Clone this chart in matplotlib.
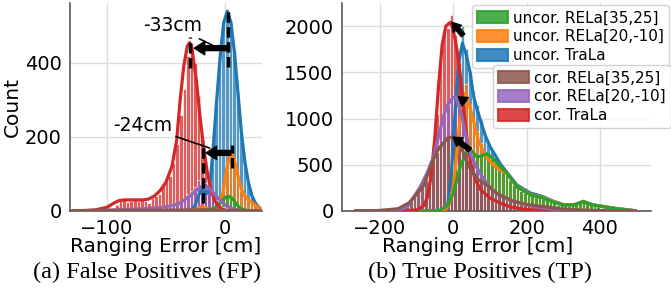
import numpy as np
import matplotlib
matplotlib.use("Agg")
import matplotlib.pyplot as plt
from matplotlib.patches import Patch

C_BLUE, C_ORANGE, C_GREEN = "#1f77b4", "#ff7f0e", "#2ca02c"
C_RED, C_PURPLE, C_BROWN = "#d62728", "#9467bd", "#8c564b"

# ---------------- (a) False Positives: histogram counts (bin width 3 cm) ----------------
fp_bin = 3
fp_blue_start = -24
fp_blue_counts = [30, 60, 40, 70, 170, 290, 420, 500, 530, 510, 430, 320, 210, 130, 75, 40, 20, 8]
fp_orange_start = -24
fp_orange_counts = [5, 12, 8, 3, 2, 5, 20, 60, 110, 150, 140, 90, 55, 40, 30, 22, 15, 10, 5]
fp_green_start = -15
fp_green_counts = [2, 5, 10, 20, 32, 40, 38, 25, 12, 5, 2]
fp_red_start = -93
fp_red_counts = [15, 28, 30, 25, 28, 30, 28, 30, 27, 22, 35, 40, 45, 70, 80, 95, 130, 180,
                 260, 330, 420, 455, 400, 310, 200, 130, 70, 40, 20, 8, 3]
fp_purple_start = -60
fp_purple_counts = [5, 6, 8, 10, 12, 15, 18, 25, 35, 45, 55, 65, 85, 80, 75, 55, 45, 30, 20,
                    12, 8, 5, 3]
fp_brown_start = -30
fp_brown_counts = [2, 2, 3, 3, 4, 3, 3, 2, 2, 1]

# (a) density curves
fp_blue_kx = [-131, -30, -26, -22, -19, -16, -13, -10, -7, -4, -1, 2, 5, 8, 11, 14, 17, 20, 23, 26, 30, 31]
fp_blue_ky = [0, 0, 10, 45, 60, 45, 60, 170, 300, 420, 510, 540, 510, 430, 320, 210, 130, 75, 40, 20, 6, 4]
fp_orange_kx = [-131, -30, -24, -20, -16, -12, -8, -5, -2, 1, 4, 6, 9, 12, 15, 18, 22, 26, 30, 31]
fp_orange_ky = [0, 0, 5, 12, 8, 3, 5, 15, 45, 105, 150, 155, 125, 80, 50, 35, 25, 15, 6, 4]
fp_green_kx = [-131, -60, -20, -12, -8, -4, 0, 3, 6, 9, 12, 16, 22, 31]
fp_green_ky = [0, 0, 1, 4, 10, 22, 36, 40, 35, 22, 10, 3, 0, 0]
fp_red_kx = [-131, -120, -110, -100, -95, -90, -85, -80, -75, -70, -65, -60, -55, -50, -45, -41,
             -38, -35, -32, -30, -28, -24, -21, -18, -15, -12, -9, -6, -3, 0, 5, 31]
fp_red_ky = [0, 1, 3, 10, 20, 28, 30, 30, 30, 30, 32, 40, 55, 78, 120, 190,
             300, 390, 445, 455, 440, 345, 250, 170, 105, 60, 30, 15, 6, 2, 0, 0]
fp_purple_kx = [-131, -110, -90, -70, -55, -45, -38, -32, -27, -23, -19, -16, -12, -8, -4, 0, 5, 10, 15, 20, 31]
fp_purple_ky = [0, 1, 3, 6, 9, 14, 22, 35, 48, 60, 68, 68, 58, 42, 28, 17, 8, 3, 1, 0, 0]
fp_brown_kx = [-131, -100, -60, -20, 0, 20, 31]
fp_brown_ky = [1, 2, 2, 3, 2, 1, 0]

# ---------------- (b) True Positives: histogram counts (bin width 10 cm) ----------------
tp_bin = 10
tp_blue_start = -30
tp_blue_counts = [10, 60, 380, 1050, 1600, 2000, 1750, 1500, 1300, 1150, 980, 850, 730, 650, 590,
                  520, 470, 420, 350, 310, 270, 230, 205, 190, 175, 160, 150, 140, 125, 105, 90,
                  75, 70, 65, 62, 65, 75, 90, 115, 95, 65, 50, 42, 35, 30, 25, 20, 15, 12, 9, 7, 6, 10]
tp_orange_start = -30
tp_orange_counts = [5, 20, 80, 420, 850, 1200, 1370, 1150, 1000, 860, 740, 620, 560, 500, 470,
                    440, 430, 400, 320, 290, 250, 220, 195, 180, 170, 155, 145, 135, 120, 100, 85,
                    72, 68, 62, 60, 62, 72, 88, 110, 92, 62, 48, 40, 33, 28, 23, 18, 14, 11, 8, 6, 5]
tp_green_start = -50
tp_green_counts = [2, 10, 30, 70, 130, 300, 480, 560, 620, 650, 640, 590, 600, 640, 610, 560, 530,
                   480, 440, 400, 330, 280, 250, 220, 190, 175, 165, 150, 175, 135, 115, 100, 85,
                   70, 65, 60, 58, 62, 72, 95, 120, 85, 62, 50, 42, 35, 30, 25, 20, 15, 12, 9, 7, 5, 3]
tp_red_start = -110
tp_red_counts = [15, 30, 50, 110, 250, 550, 1050, 1600, 1950, 1980, 2120, 1900, 1600, 1250, 850,
                 580, 400, 290, 220, 180, 140, 110, 90, 70, 55, 45, 35, 25, 20, 15, 10]
tp_purple_start = -160
tp_purple_counts = [10, 20, 35, 60, 110, 170, 240, 310, 390, 460, 580, 720, 900, 1050, 1150, 1230,
                    1250, 1120, 1000, 780, 640, 530, 450, 400, 330, 280, 240, 200, 170, 150, 120,
                    110, 95, 80, 70, 60, 55, 45, 40, 30, 25, 20, 15, 12, 10, 8]
tp_brown_start = -200
tp_brown_counts = [3, 5, 8, 12, 20, 30, 50, 80, 120, 170, 220, 270, 330, 450, 560, 640, 700, 760,
                   790, 800, 780, 720, 650, 560, 470, 400, 350, 330, 300, 270, 230, 190, 170, 150,
                   130, 115, 100, 90, 80, 70, 65, 60, 55, 50, 45, 40, 30, 25, 20, 18, 15, 12, 10,
                   8, 7, 6, 5, 4, 3]

# (b) density curves
tp_blue_kx = [-270, -40, -25, -15, -5, 5, 10, 17, 25, 35, 46, 55, 65, 73, 87, 100, 115, 130, 146,
              174, 210, 245, 270, 300, 330, 354, 380, 435, 490, 500]
tp_blue_ky = [0, 0, 15, 60, 400, 1060, 1340, 1650, 1815, 1700, 1500, 1250, 1100, 1000, 820, 700,
              600, 500, 420, 280, 195, 155, 110, 70, 68, 105, 68, 32, 6, 2]
tp_orange_kx = [-270, -40, -20, -10, 0, 5, 11, 19, 25, 32, 40, 48, 55, 68, 87, 109, 130, 146, 174,
                210, 245, 270, 300, 330, 354, 380, 435, 490, 500]
tp_orange_ky = [0, 0, 20, 80, 250, 440, 660, 1020, 1200, 1270, 1200, 1080, 985, 770, 600, 500, 440,
                410, 265, 180, 145, 105, 68, 66, 102, 66, 31, 5, 2]
tp_green_kx = [-270, -60, -35, -15, 0, 19, 38, 50, 65, 80, 92, 105, 119, 146, 174, 210, 245, 270,
               300, 330, 354, 380, 435, 490, 500]
tp_green_ky = [0, 0, 10, 60, 190, 480, 640, 650, 585, 600, 620, 580, 520, 410, 260, 175, 140, 100,
               65, 65, 100, 65, 30, 5, 0]
tp_red_kx = [-270, -150, -100, -80, -70, -60, -50, -40, -30, -20, -8, 0, 10, 20, 30, 40, 50, 60, 75,
             100, 130, 160, 200, 250, 300, 500]
tp_red_ky = [0, 2, 10, 60, 150, 380, 800, 1350, 1800, 2000, 2040, 1960, 1750, 1450, 1050, 700, 480,
             340, 230, 140, 80, 40, 15, 5, 0, 0]
tp_purple_kx = [-270, -150, -125, -90, -70, -54, -40, -27, -15, 0, 5, 10, 24, 35, 46, 60, 73, 95,
                119, 160, 218, 260, 300, 350, 400, 500]
tp_purple_ky = [0, 10, 45, 260, 420, 585, 800, 1020, 1150, 1230, 1235, 1200, 1020, 800, 625, 500,
                410, 280, 190, 110, 50, 25, 10, 3, 0, 0]
tp_brown_kx = [-270, -200, -150, -120, -100, -80, -63, -44, -30, -15, -3, 10, 27, 46, 68, 92, 119,
               160, 200, 250, 300, 350, 400, 500]
tp_brown_ky = [0, 5, 25, 90, 180, 280, 470, 650, 720, 790, 800, 760, 640, 460, 340, 280, 190, 110,
               70, 45, 20, 10, 3, 0]

legend_uncor = ["uncor. RELa[35,25]", "uncor. RELa[20,-10]", "uncor. TraLa"]
legend_cor = ["cor. RELa[35,25]", "cor. RELa[20,-10]", "cor. TraLa"]


def draw_hist(ax, start, width, counts, color):
    edges = start + width * np.arange(len(counts))
    ax.bar(edges, counts, width=width, align="edge", color=color, alpha=0.75,
           edgecolor="white", linewidth=0.6, zorder=2)


def style_axes(ax):
    ax.grid(True, color="#dddddd", linewidth=1.0, zorder=0)
    ax.set_axisbelow(True)
    for s in ["top", "right"]:
        ax.spines[s].set_visible(False)
    for s in ["left", "bottom"]:
        ax.spines[s].set_color("0.35")
        ax.spines[s].set_linewidth(1.2)
    ax.tick_params(length=0, labelsize=14, pad=6)


fig = plt.figure(figsize=(6.71, 2.96), dpi=100)
ax1 = fig.add_axes([70 / 671, 85 / 296, 192 / 671, 208 / 296])
ax2 = fig.add_axes([342 / 671, 85 / 296, 309 / 671, 208 / 296])

# ---- panel (a)
for start, counts, col in [(fp_blue_start, fp_blue_counts, C_BLUE),
                           (fp_orange_start, fp_orange_counts, C_ORANGE),
                           (fp_green_start, fp_green_counts, C_GREEN),
                           (fp_red_start, fp_red_counts, C_RED),
                           (fp_purple_start, fp_purple_counts, C_PURPLE),
                           (fp_brown_start, fp_brown_counts, C_BROWN)]:
    draw_hist(ax1, start, fp_bin, counts, col)
for kx, ky, col in [(fp_blue_kx, fp_blue_ky, C_BLUE), (fp_orange_kx, fp_orange_ky, C_ORANGE),
                    (fp_green_kx, fp_green_ky, C_GREEN), (fp_red_kx, fp_red_ky, C_RED),
                    (fp_purple_kx, fp_purple_ky, C_PURPLE), (fp_brown_kx, fp_brown_ky, C_BROWN)]:
    ax1.plot(kx, ky, color=col, lw=2.3, zorder=3, solid_capstyle="butt")

dash = (0, (3, 1.3))
ax1.plot([2.5, 2.5], [390, 543], color="k", lw=2.5, ls=dash, zorder=4)
ax1.plot([-30, -30], [386, 470], color="k", lw=2.5, ls=dash, zorder=4)
ax1.plot([6, 6], [116, 178], color="k", lw=2.5, ls=dash, zorder=4)
ax1.plot([-19, -19], [22, 170], color="k", lw=2.5, ls=dash, zorder=4)
big_arrow = dict(arrowstyle="simple,head_width=0.95,head_length=0.75,tail_width=0.35",
                 color="k", mutation_scale=10, shrinkA=0, shrinkB=0)
ax1.annotate("", xy=(-26, 440), xytext=(2.5, 440), arrowprops=big_arrow, zorder=5)
ax1.annotate("", xy=(-16, 157), xytext=(5, 157), arrowprops=big_arrow, zorder=5)
ax1.annotate("-33cm", xy=(-10, 447), xytext=(-44, 500), ha="center", va="center", fontsize=13.5,
             arrowprops=dict(arrowstyle="-", color="k", lw=1.2, shrinkA=1, shrinkB=0), zorder=5)
ax1.annotate("-24cm", xy=(-13, 170), xytext=(-70, 232), ha="center", va="center", fontsize=13.5,
             arrowprops=dict(arrowstyle="-", color="k", lw=1.2, shrinkA=1, shrinkB=0), zorder=5)

style_axes(ax1)
ax1.set_xlim(-131.4, 31.4)
ax1.set_ylim(0, 562)
ax1.set_xticks([-100, 0])
ax1.set_yticks([0, 200, 400])
ax1.set_xlabel("Ranging Error [cm]", fontsize=14.5)
ax1.xaxis.set_label_coords(0.5, -0.125)
ax1.set_ylabel("Count", fontsize=14.5)
ax1.yaxis.set_label_coords(-0.25, 0.5)

# ---- panel (b)
for start, counts, col in [(tp_blue_start, tp_blue_counts, C_BLUE),
                           (tp_orange_start, tp_orange_counts, C_ORANGE),
                           (tp_green_start, tp_green_counts, C_GREEN),
                           (tp_red_start, tp_red_counts, C_RED),
                           (tp_purple_start, tp_purple_counts, C_PURPLE),
                           (tp_brown_start, tp_brown_counts, C_BROWN)]:
    draw_hist(ax2, start, tp_bin, counts, col)
for kx, ky, col in [(tp_blue_kx, tp_blue_ky, C_BLUE), (tp_orange_kx, tp_orange_ky, C_ORANGE),
                    (tp_green_kx, tp_green_ky, C_GREEN), (tp_red_kx, tp_red_ky, C_RED),
                    (tp_purple_kx, tp_purple_ky, C_PURPLE), (tp_brown_kx, tp_brown_ky, C_BROWN)]:
    ax2.plot(kx, ky, color=col, lw=2.3, zorder=3, solid_capstyle="butt")

small_arrow = dict(arrowstyle="simple,head_width=0.95,head_length=0.75,tail_width=0.4",
                   color="k", mutation_scale=8, shrinkA=0, shrinkB=0)
ax2.annotate("", xy=(-3, 2040), xytext=(27, 1900), arrowprops=small_arrow, zorder=5)
ax2.annotate("", xy=(14, 1235), xytext=(33, 1180), arrowprops=small_arrow, zorder=5)
ax2.annotate("", xy=(0, 800), xytext=(46, 660), arrowprops=small_arrow, zorder=5)

style_axes(ax2)
ax2.set_xlim(-303, 539)
ax2.set_ylim(0, 2250)
ax2.set_xticks([-200, 0, 200, 400])
ax2.set_yticks([0, 500, 1000, 1500, 2000])
ax2.set_xlabel("Ranging Error [cm]", fontsize=14.5)
ax2.xaxis.set_label_coords(0.44, -0.125)

h_uncor = [Patch(facecolor=c, edgecolor=c, alpha=0.85, lw=1.5) for c in (C_GREEN, C_ORANGE, C_BLUE)]
h_cor = [Patch(facecolor=c, edgecolor=c, alpha=0.85, lw=1.5) for c in (C_BROWN, C_PURPLE, C_RED)]
leg_kw = dict(loc="upper left", fontsize=11, handlelength=2.0, handleheight=0.8,
              handletextpad=0.35, borderpad=0.35, labelspacing=0.25, borderaxespad=0,
              framealpha=0.85, edgecolor="#cccccc")
leg1 = ax2.legend(h_uncor, legend_uncor, bbox_to_anchor=(0.4207, 0.99), **leg_kw)
ax2.add_artist(leg1)
leg2 = ax2.legend(h_cor, legend_cor, bbox_to_anchor=(0.4887, 0.702), **leg_kw)

fig.text(147 / 671, 1 - 272 / 296, "(a) False Positives (FP)", family="Liberation Serif",
         fontsize=17.5, ha="center", va="center")
fig.text(480 / 671, 1 - 272 / 296, "(b) True Positives (TP)", family="Liberation Serif",
         fontsize=17.5, ha="center", va="center")

fig.savefig("out.png", dpi=100)
